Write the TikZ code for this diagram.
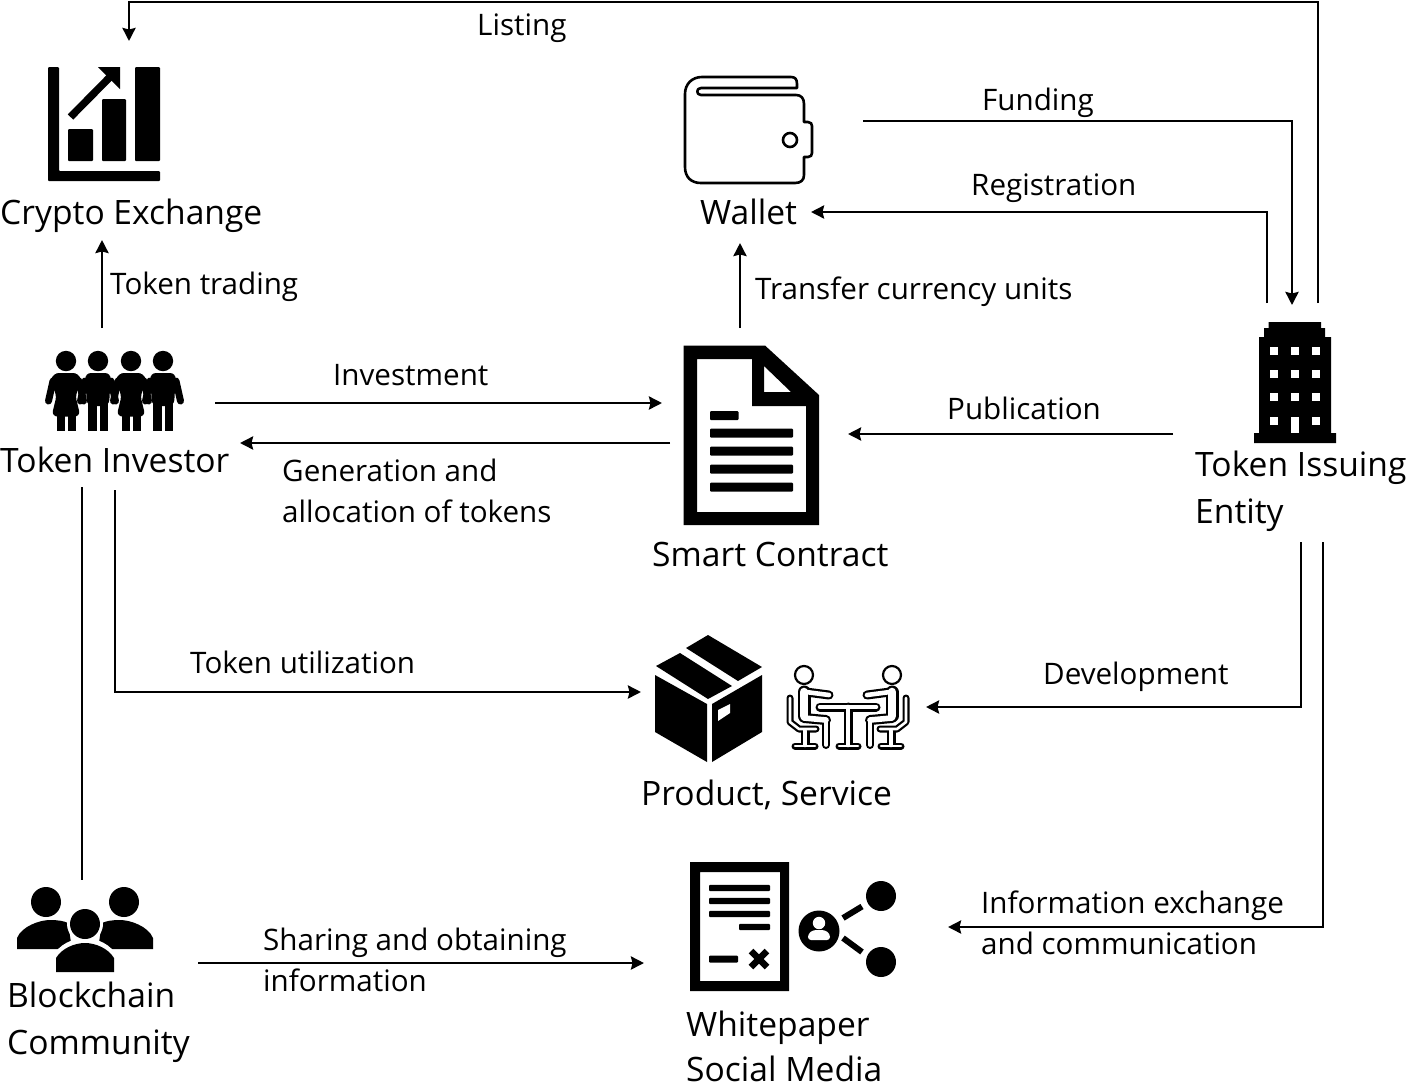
\documentclass[tikz,border=0pt]{standalone}
\usepackage{fontspec}
\setmainfont{Open Sans}
\usetikzlibrary{arrows.meta}
\tikzset{
  conn/.style={line width=2.7pt,draw=black,line join=miter},
  arrow/.style={conn,-{Stealth[length=13pt,width=13pt,inset=1.5pt]}},
  small/.style={font=\fontsize{29.6}{41}\selectfont,inner sep=0pt,align=left,anchor=north west,text=black},
  big/.style={font=\fontsize{33.6}{47}\selectfont,inner sep=0pt,align=left,anchor=north west,text=black},
  bar/.style={fill=black,draw=none,rounded corners=1pt},
  tube/.style={line cap=round,line join=round}
}
\newcommand{\figgirl}[1]{
  \begin{scope}[xshift=#1pt]
    \fill[black,rounded corners=6pt] (-13,373) -- (13,373) -- (16,384) -- (9,394) -- (14.5,416.5) -- (-14.5,416.5) -- (-9,394) -- (-16,384) -- cycle;
    \fill[black] (-9.5,416) rectangle (-1.5,431);
    \fill[black] (1.5,416) rectangle (9.5,431);
    \draw[black,line width=7pt,line cap=round] (-13,381) -- (-17.5,401);
    \draw[black,line width=7pt,line cap=round] (13,381) -- (17.5,401);
    \fill[black] (0,361) circle (10.2);
  \end{scope}}
\newcommand{\figboy}[1]{
  \begin{scope}[xshift=#1pt]
    \fill[black,rounded corners=6pt] (-13,373) -- (13,373) -- (11,406) -- (-11,406) -- cycle;
    \fill[black] (-10,400) rectangle (-1.5,431);
    \fill[black] (1.5,400) rectangle (10,431);
    \draw[black,line width=7pt,line cap=round] (-13,381) -- (-17.5,401);
    \draw[black,line width=7pt,line cap=round] (13,381) -- (17.5,401);
    \fill[black] (0,361) circle (10.2);
  \end{scope}}
% one seated person; #1 colour, #2 how much narrower than the full tube
\newcommand{\seated}[2]{
  \draw[#1,tube,line width=7pt-#2pt] (790,698) -- (790,722) -- (799,729) -- (816,729);
  \draw[#1,tube,line width=9pt-#2pt] (805,731) -- (805,745);
  \draw[#1,tube,line width=7pt-#2pt] (795,746) -- (815,746);
  \draw[#1,tube,line width=13pt-#2pt] (804,692) -- (804,716);
  \draw[#1,tube,line width=10pt-#2pt] (804,718) -- (826,720);
  \draw[#1,tube,line width=8pt-#2pt] (826,722) -- (826,745);
  \draw[#1,tube,line width=9pt-#2pt] (806,692) -- (829,695);
}
\newcommand{\meetlayer}[2]{
  \seated{#1}{#2}
  \begin{scope}[xshift=1696pt,xscale=-1]
    \seated{#1}{#2}
  \end{scope}
  \draw[#1,tube,line width=9pt-#2pt] (820,707) -- (876,707);
  \draw[#1,tube,line width=9pt-#2pt] (848,707) -- (848,745);
  \draw[#1,tube,line width=7pt-#2pt] (839,746) -- (858,746);
}
\begin{document}
\begin{tikzpicture}[x=1pt,y=-1pt]
\useasboundingbox (0,0) rectangle (1406,1085);
\fill[white] (0,0) rectangle (1406,1085);

% ---------- Crypto exchange icon
\fill[black,rounded corners=1pt] (48,67) -- (59,67) -- (59,171) -- (160,171) -- (160,181) -- (48,181) -- cycle;
\fill[black,rounded corners=1pt] (68,129) rectangle (93,161);
\fill[black,rounded corners=1pt] (102,99) rectangle (126,161);
\fill[black,rounded corners=1pt] (135,67) rectangle (160,161);
\fill[black] (98,67) -- (120,67) -- (120,89) -- cycle;
\draw[black,line width=7.5pt] (70.5,117) -- (110,77);

% ---------- Wallet icon
\draw[black,line width=2.6pt,line join=round]
  (797,88) -- (797,84) .. controls (797,79) and (795,77) .. (791,77) -- (702,77)
  .. controls (692,77) and (685,84) .. (685,94) -- (685,167)
  .. controls (685,177) and (691,183) .. (701,183) -- (795,183)
  .. controls (801,183) and (804,180) .. (804,175) -- (804,157) -- (808,157)
  .. controls (811,157) and (812,155) .. (812,153) -- (812,126)
  .. controls (812,124) and (811,122) .. (808,122) -- (804,122) -- (804,104)
  .. controls (804,98) and (801,95) .. (796,95) -- (701,95)
  .. controls (696,95) and (696,88) .. (701,88) -- cycle;
\draw[black,line width=2.6pt] (790,140) circle (7);

% ---------- Investors icon
\figgirl{66}\figboy{98}\figgirl{131}\figboy{163}

% ---------- Smart contract icon
\fill[black,even odd rule] (683.5,345.5) -- (765,345.5) -- (819,395) -- (819,525) -- (683.5,525) -- cycle
  (697,359) -- (752,359) -- (752,406) -- (806,406) -- (806,512) -- (697,512) -- cycle
  (764,366) -- (791,392) -- (764,392) -- cycle;
\fill[bar] (710,411) rectangle (738.5,420);
\foreach \yy in {433,451,469,487} \fill[bar] (710,\yy-4.5) rectangle (793,\yy+4.5);

% ---------- Building icon
\fill[black] (1268.5,322) -- (1321,322) -- (1321,328) -- (1325,328) -- (1325,337) -- (1331,337) -- (1331,433)
  -- (1336,433) -- (1336,443) -- (1254,443) -- (1254,433) -- (1259,433) -- (1259,337) -- (1264,337) -- (1264,328) -- (1268.5,328) -- cycle;
\foreach \xx in {1274,1295,1316} \foreach \yy in {351,374,397}
  \fill[white] (\xx-4,\yy-4) rectangle (\xx+4,\yy+4);
\foreach \xx in {1274,1316} \fill[white] (\xx-4,417) rectangle (\xx+4,425);
\fill[white] (1291,417) rectangle (1299,433);

% ---------- Box icon
\fill[black] (656,666) -- (680,653) -- (732,686) -- (708,699) -- cycle;
\fill[black] (686,648) -- (708,635) -- (762,667) -- (738,681) -- cycle;
\fill[black] (655,675) -- (707,704) -- (707,762) -- (655,732) -- cycle;
\fill[black] (712,704) -- (762,675) -- (762,732) -- (712,762) -- cycle;
\fill[white] (718,710) -- (730,704) -- (730,713) -- (718,721) -- cycle;

% ---------- Meeting icon
\meetlayer{black}{0}
\meetlayer{white}{4.4}
\draw[black,line width=2.2pt,fill=white] (804,675) circle (9);
\draw[black,line width=2.2pt,fill=white] (892,675) circle (9);

% ---------- Whitepaper icon
\fill[black,even odd rule] (690,862) rectangle (789,991) (700,872) rectangle (780,981);
\foreach \yy in {888,901,914} \fill[bar] (709,\yy-3.2) rectangle (770,\yy+3.2);
\fill[bar] (739,923.8) rectangle (770,930.2);
\fill[bar] (709,955.5) rectangle (738,962.5);
\draw[black,line width=6.5pt] (751,951) -- (767,967) (767,951) -- (751,967);

% ---------- Social share icon
\fill[black] (819,931) circle (20.5);
\fill[black] (881,896) circle (15);
\fill[black] (881,962) circle (15);
\draw[black,line width=6pt] (843,918) -- (862,906.5) (843,938) -- (862,952);
\fill[white] (819,923) circle (6.2);
\fill[white,rounded corners=3pt] (808,940) -- (808,934) -- (813,930) -- (825,930) -- (830,934) -- (830,940) -- cycle;

% ---------- Community icon
\fill[black] (46,902) circle (15);
\fill[black] (124,902) circle (15);
\fill[black] (17,949) -- (17,938) .. controls (22,926) and (40,920) .. (50,920) .. controls (58,920) and (64,921) .. (68,923) -- (72,949) -- cycle;
\fill[black] (153,949) -- (153,938) .. controls (148,926) and (130,920) .. (120,920) .. controls (112,920) and (106,921) .. (102,923) -- (98,949) -- cycle;
\fill[white] (85,924) circle (18);
\fill[white] (52,976) -- (52,958) .. controls (58,944) and (74,938) .. (85,938) .. controls (96,938) and (112,944) .. (118,958) -- (118,976) -- cycle;
\fill[black] (85,924) circle (15);
\fill[black] (56,972) -- (56,958) .. controls (62,948) and (75,943) .. (85,943) .. controls (95,943) and (108,948) .. (114,958) -- (114,972) -- cycle;

% ---------- Text
\node[big]   (exchange)  at (0,199)    {Crypto Exchange};
\node[big]   (wallet)    at (700,199)  {Wallet};
\node[big]   (investor)  at (0,447)    {Token Investor};
\node[big]   (contract)  at (652,542)  {Smart Contract};
\node[big]   (issuer)    at (1195,451) {Token Issuing\\Entity};
\node[big]   (product)   at (641,780)  {Product, Service};
\node[big]   (community) at (7,982)    {Blockchain\\Community};
\node[big]   (media)     at (686,1011) {Whitepaper\\[-2pt]Social Media};
\node[small] (llisting)  at (477,14)   {Listing};
\node[small] (lfunding)  at (982,88)   {Funding};
\node[small] (lregister) at (971,174)  {Registration};
\node[small] (ltrading)  at (110,272)  {Token trading};
\node[small] (ltransfer) at (755,277)  {Transfer currency units};
\node[small] (linvest)   at (333,364)  {Investment};
\node[small] (lgen)      at (282,459)  {Generation and\\allocation of tokens};
\node[small] (lpub)      at (947,397)  {Publication};
\node[small] (lutil)     at (190,651)  {Token utilization};
\node[small] (ldev)      at (1043,662) {Development};
\node[small] (lshare)    at (263,928)  {Sharing and obtaining\\information};
\node[small] (linfo)     at (981,891)  {Information exchange\\and communication};

% ---------- Connector ends
\coordinate (issuerTopR)   at (1318,303);
\coordinate (issuerTopM)   at (1292,305);
\coordinate (issuerTopL)   at (1267,303);
\coordinate (issuerBotL)   at (1301,542);
\coordinate (issuerBotR)   at (1323,542);
\coordinate (issuerLeft)   at (1173,434);
\coordinate (exchangeTop)  at (129,41);
\coordinate (exchangeBot)  at (102,240);
\coordinate (walletRight)  at (863,121);
\coordinate (walletText)   at (811,212);
\coordinate (walletBot)    at (740,243);
\coordinate (contractTop)  at (740,328);
\coordinate (contractRight) at (848,434);
\coordinate (contractIn)   at (662,403);
\coordinate (contractOut)  at (670,443);
\coordinate (investorTop)  at (102,328);
\coordinate (investorOut)  at (215,403);
\coordinate (investorIn)   at (240,443);
\coordinate (investorBotL) at (82,487);
\coordinate (investorBotR) at (115,490);
\coordinate (communityTop) at (82,880);
\coordinate (communityOut) at (198,963);
\coordinate (mediaIn)      at (644,963);
\coordinate (mediaRight)   at (948,927);
\coordinate (productIn)    at (641,692);
\coordinate (meetingRight) at (926,707);

% ---------- Connectors
\draw[arrow] (issuerTopR) |- (1200,2) -| (exchangeTop);
\draw[arrow] (walletRight) -| (issuerTopM);
\draw[arrow] (issuerTopL) |- (walletText);
\draw[arrow] (contractTop) -- (walletBot);
\draw[arrow] (investorTop) -- (exchangeBot);
\draw[arrow] (investorOut) -- (contractIn);
\draw[arrow] (contractOut) -- (investorIn);
\draw[arrow] (issuerLeft) -- (contractRight);
\draw[conn]  (investorBotL) -- (communityTop);
\draw[arrow] (investorBotR) |- (productIn);
\draw[arrow] (issuerBotL) |- (meetingRight);
\draw[arrow] (issuerBotR) |- (mediaRight);
\draw[arrow] (communityOut) -- (mediaIn);
\end{tikzpicture}
\end{document}
